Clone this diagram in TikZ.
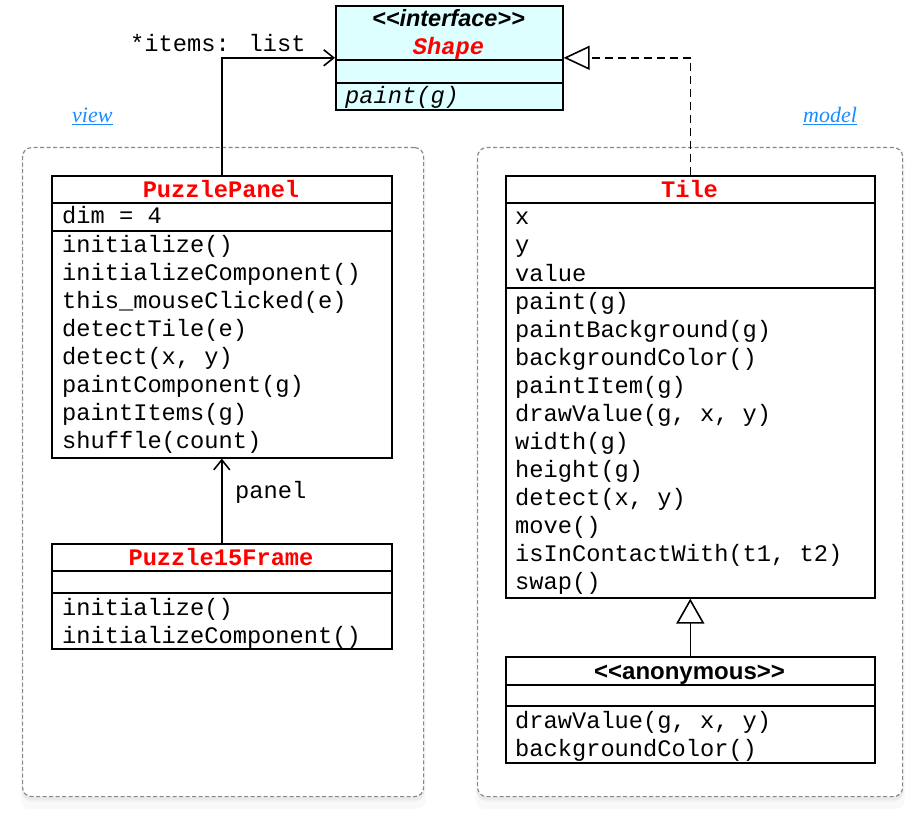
\documentclass[tikz,border=0pt]{standalone}
\usepackage{fontspec}
\usetikzlibrary{arrows.meta,shadows}
\newfontfamily\monof{Liberation Mono}
\newfontfamily\sansf{Liberation Sans}
\newfontfamily\seriff{Liberation Serif}
\definecolor{umlred}{HTML}{FF0000}
\definecolor{ifill}{HTML}{DDFFFF}
\definecolor{pkgblue}{HTML}{1A8CFF}
\definecolor{pkggray}{HTML}{888888}
\tikzset{
  classbox/.style={draw=black, line width=1.6pt, fill=white, anchor=north west, inner sep=0pt},
  pkgbox/.style={draw=pkggray, line width=1.2pt, dash pattern=on 4pt off 2.5pt, rounded corners=9pt, fill=white, anchor=north west, inner sep=0pt,
     drop shadow={opacity=0.05, shadow xshift=0pt, shadow yshift=-9pt, shadow scale=1.01},
     drop shadow={opacity=0.06, shadow xshift=0pt, shadow yshift=-5pt},
     drop shadow={opacity=0.07, shadow xshift=0pt, shadow yshift=-2pt, shadow scale=1.005}},
  sep/.style={line width=1.6pt},
  row/.style={font=\monof\fontsize{23.7}{28}\selectfont, anchor=base west, inner sep=0pt},
  title/.style={font=\monof\bfseries\fontsize{23.7}{28}\selectfont, text=umlred, anchor=base, inner sep=0pt},
  stereo/.style={font=\sansf\bfseries\fontsize{24}{28}\selectfont, anchor=base, inner sep=0pt},
  pkglabel/.style={font=\seriff\itshape\fontsize{22}{24}\selectfont, text=pkgblue, anchor=base west, inner sep=0pt},
  assoc/.style={line width=1.6pt, -{Straight Barb[length=10pt,width=16pt,line width=1.6pt]}},
  realize/.style={line width=1.6pt, dash pattern=on 8pt off 5pt, -{Triangle[open,length=26pt,width=24pt,line width=1.6pt,fill=white]}},
  general/.style={line width=1.6pt, -{Triangle[open,length=25pt,width=28pt,line width=1.6pt,fill=white]}},
}
\begin{document}
\begin{tikzpicture}[x=1pt,y=-1pt]
\useasboundingbox (0,0) rectangle (922,824);

% packages
\node[pkgbox, minimum width=401pt, minimum height=649pt] (viewpkg) at (22,147) {};
\node[pkgbox, minimum width=425pt, minimum height=649pt] (modelpkg) at (477,147) {};
\node[pkglabel] (viewlbl) at (72,123) {\underline{view}};
\node[pkglabel] (modellbl) at (803,123) {\underline{model}};

% interface Shape
\node[classbox, fill=ifill, minimum width=227pt, minimum height=104pt] (shape) at (335,5) {};
\draw[sep] (335,60) -- (562,60);
\draw[sep] (335,83) -- (562,83);
\node[stereo, font=\sansf\bfseries\itshape\fontsize{23.5}{28}\selectfont] (shapest) at (448.5,27) {<<interface>>};
\node[title, font=\monof\bfseries\itshape\fontsize{23.7}{28}\selectfont] (shapename) at (448.5,55) {Shape};
\node[row, font=\monof\itshape\fontsize{23.7}{28}\selectfont] (shapem1) at (345,104) {paint(g)};

% PuzzlePanel
\node[classbox, minimum width=340pt, minimum height=282pt] (panel) at (51,175) {};
\draw[sep] (51,203) -- (391,203);
\draw[sep] (51,231) -- (391,231);
\node[title] (panelname) at (221,197) {PuzzlePanel};
\node[row] (pa1) at (62,224) {dim = 4};
\node[row] (pm1) at (62,252) {initialize()};
\node[row] (pm2) at (62,280) {initializeComponent()};
\node[row] (pm3) at (62,308) {this\_mouseClicked(e)};
\node[row] (pm4) at (62,336) {detectTile(e)};
\node[row] (pm5) at (62,364) {detect(x, y)};
\node[row] (pm6) at (62,392) {paintComponent(g)};
\node[row] (pm7) at (62,420) {paintItems(g)};
\node[row] (pm8) at (62,448) {shuffle(count)};

% Puzzle15Frame
\node[classbox, minimum width=340pt, minimum height=105pt] (frame) at (51,543) {};
\draw[sep] (51,571) -- (391,571);
\draw[sep] (51,593) -- (391,593);
\node[title] (framename) at (221,565) {Puzzle15Frame};
\node[row] (fm1) at (62,615) {initialize()};
\node[row] (fm2) at (62,643) {initializeComponent()};

% Tile
\node[classbox, minimum width=369pt, minimum height=422pt] (tile) at (505,175) {};
\draw[sep] (505,203) -- (874,203);
\draw[sep] (505,288) -- (874,288);
\node[title] (tilename) at (689.5,197) {Tile};
\node[row] (ta1) at (515,225) {x};
\node[row] (ta2) at (515,253) {y};
\node[row] (ta3) at (515,281) {value};
\node[row] (tm1) at (515,309) {paint(g)};
\node[row] (tm2) at (515,337) {paintBackground(g)};
\node[row] (tm3) at (515,365) {backgroundColor()};
\node[row] (tm4) at (515,393) {paintItem(g)};
\node[row] (tm5) at (515,421) {drawValue(g, x, y)};
\node[row] (tm6) at (515,449) {width(g)};
\node[row] (tm7) at (515,477) {height(g)};
\node[row] (tm8) at (515,505) {detect(x, y)};
\node[row] (tm9) at (515,533) {move()};
\node[row] (tm10) at (515,561) {isInContactWith(t1, t2)};
\node[row] (tm11) at (515,589) {swap()};

% anonymous
\node[classbox, minimum width=369pt, minimum height=106pt] (anon) at (505,656) {};
\draw[sep] (505,685) -- (874,685);
\draw[sep] (505,706) -- (874,706);
\node[stereo] (anonname) at (689.5,679) {<<anonymous>>};
\node[row] (am1) at (515,728) {drawValue(g, x, y)};
\node[row] (am2) at (515,756) {backgroundColor()};

% connectors
\draw[assoc] (panel.north) |- (shape.west);
\node[row] (itemslbl) at (130,52) {*items: list};
\draw[realize] (tile.north) |- (shape.east);
\draw[assoc] (frame.north) -- (panel.south);
\node[row] (panellbl) at (235,498) {panel};
\draw[general] (anon.north) -- (tile.south);
\end{tikzpicture}
\end{document}
